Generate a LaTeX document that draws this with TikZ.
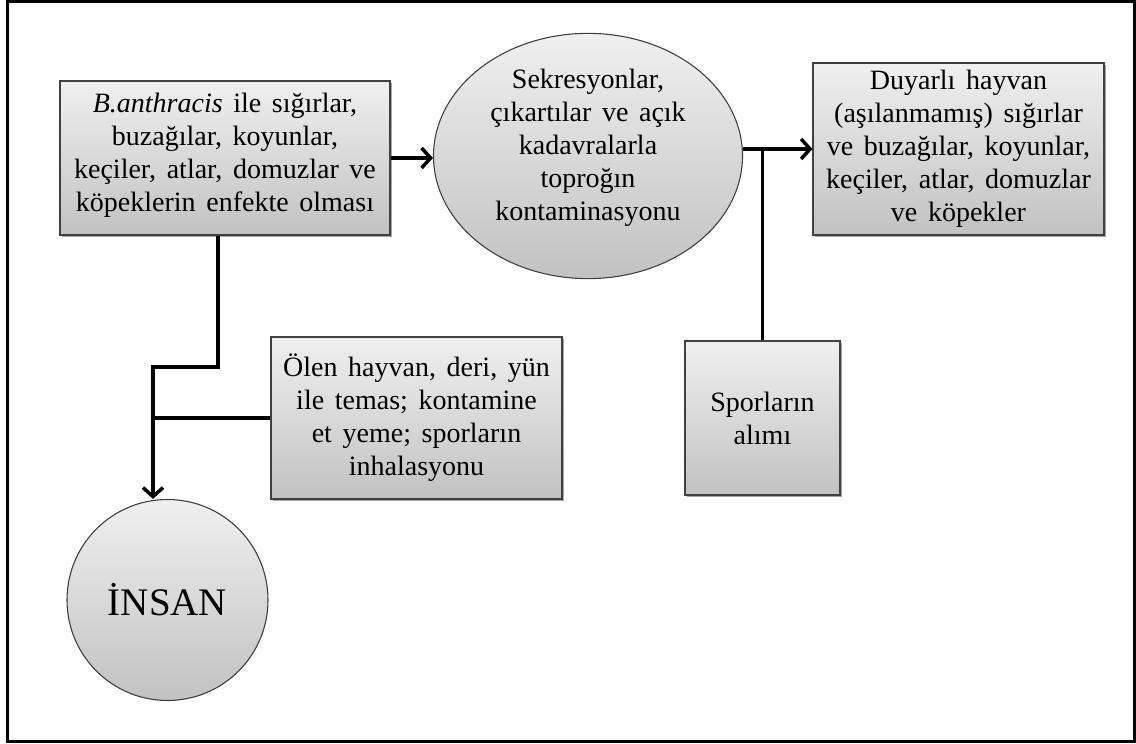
\documentclass[tikz,border=0pt]{standalone}
\usepackage{fontspec}
\setmainfont{Liberation Serif}
\usetikzlibrary{arrows.meta,shapes.geometric,shadows}
\begin{document}
\begin{tikzpicture}[x=1pt,y=-1pt,
  txt/.style={font={\fontsize{28}{33}\selectfont\spaceskip=.38em\relax}, align=center, text=black},
  gfill/.style={top color=black!6, bottom color=black!24, draw=black!75, line width=1.1pt},
  boxn/.style={gfill, txt, rectangle, inner sep=0pt,
    drop shadow={shadow xshift=2pt,shadow yshift=-2pt,opacity=.35,fill=black}},
  conn/.style={line width=3.5pt, draw=black},
  arr/.style={conn, -{Straight Barb[length=9pt,width=20pt]}}
]
\useasboundingbox (0,0) rectangle (1136,744);
\draw[line width=3pt] (7.5,1.5) rectangle (1134.5,741.5);

\node[boxn, minimum width=330pt, minimum height=154pt] (src) at (225,158)
  {\textit{B.anthracis} ile sığırlar,\\ buzağılar, koyunlar,\\ keçiler, atlar, domuzlar ve\\ köpeklerin enfekte olması\rule[-12pt]{0pt}{12pt}};
\node[gfill, txt, ellipse, minimum width=309pt, minimum height=244pt, inner sep=0pt] (soil) at (588,156)
  {Sekresyonlar,\\ çıkartılar ve açık\\ kadavralarla\\ toproğın\\ kontaminasyonu\rule[-22pt]{0pt}{22pt}};
\node[boxn, minimum width=291pt, minimum height=172pt] (host) at (958.5,149)
  {Duyarlı hayvan\\ (aşılanmamış) sığırlar\\ ve buzağılar, koyunlar,\\ keçiler, atlar, domuzlar\\ ve köpekler};
\node[boxn, minimum width=155pt, minimum height=154pt] (spor) at (762.5,418)
  {Sporların\\ alımı};
\node[boxn, minimum width=291pt, minimum height=162pt] (olen) at (416.5,418)
  {Ölen hayvan, deri, yün\\ ile temas; kontamine\\ et yeme; sporların\\ inhalasyonu};
\node[gfill, circle, minimum size=201pt, inner sep=0pt, font={\fontsize{39}{46}\selectfont}, text=black] (insan) at (167.5,600)
  {İNSAN};

\coordinate (b1) at (218,367);
\coordinate (b2) at (153,367);

\draw[arr] (src.east) -- (src.east -| soil.west);
\draw[arr] (host.west -| soil.east) -- (host.west);
\draw[conn] (spor.north) -- (spor.north |- host.west);
\draw[arr] (b1 |- src.south) -- (b1) -- (b2) -- (b2 |- insan.north);
\draw[conn] (olen.west) -- (olen.west -| b2);
\end{tikzpicture}
\end{document}
